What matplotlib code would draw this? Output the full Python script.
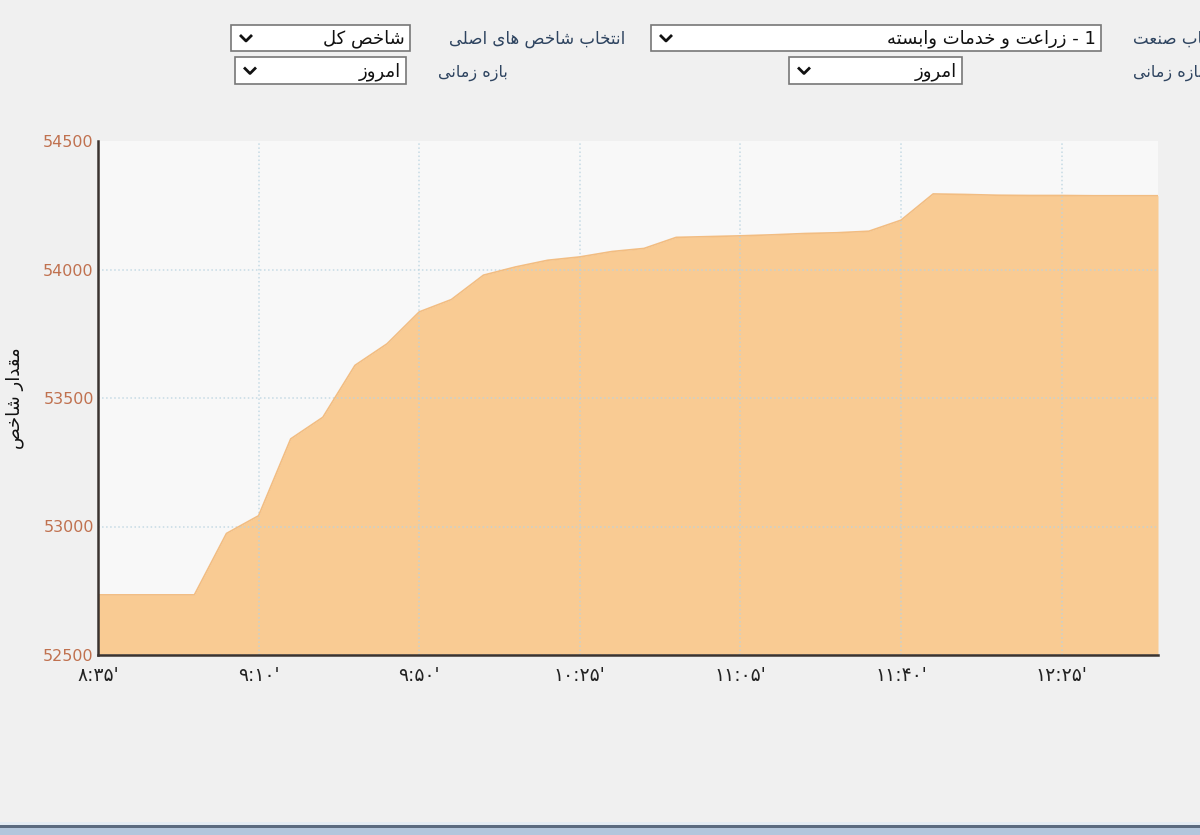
import matplotlib
matplotlib.use("Agg")
import matplotlib.pyplot as plt
from matplotlib.patches import Rectangle

plt.rcParams['font.family'] = ['DejaVu Sans']

# index values (one point every ~7-9 minutes)
index_values = [52734, 52734, 52734, 52734, 52973, 53042, 53341, 53425, 53627, 53711,
                53835, 53883, 53978, 54010, 54036, 54049, 54070, 54082, 54125, 54128,
                54131, 54135, 54140, 54143, 54149, 54192, 54294, 54292, 54289, 54288,
                54288, 54287, 54287, 54287]
tick_pos = [0, 5, 10, 15, 20, 25, 30]
tick_labels = ["۸:۳۵'", "۹:۱۰'", "۹:۵۰'", "۱۰:۲۵'", "۱۱:۰۵'", "۱۱:۴۰'", "۱۲:۲۵'"]
y_ticks = [52500, 53000, 53500, 54000, 54500]

lbl_main = "انتخاب شاخص های اصلی"
box_main = "شاخص کل"
lbl_period = "بازه زمانی"
box_period = "امروز"
lbl_industry = "انتخاب صنعت"
box_industry = "1 - زراعت و خدمات وابسته"
y_title = "مقدار شاخص"


# matplotlib has no arabic shaping, so pick presentation forms by hand
FORMS = {
    'ا': (0xFE8D, 0xFE8E, None, None), 'ب': (0xFE8F, 0xFE90, 0xFE91, 0xFE92),
    'ت': (0xFE95, 0xFE96, 0xFE97, 0xFE98), 'خ': (0xFEA5, 0xFEA6, 0xFEA7, 0xFEA8),
    'د': (0xFEA9, 0xFEAA, None, None), 'ر': (0xFEAD, 0xFEAE, None, None),
    'ز': (0xFEAF, 0xFEB0, None, None), 'س': (0xFEB1, 0xFEB2, 0xFEB3, 0xFEB4),
    'ش': (0xFEB5, 0xFEB6, 0xFEB7, 0xFEB8), 'ص': (0xFEB9, 0xFEBA, 0xFEBB, 0xFEBC),
    'ع': (0xFEC9, 0xFECA, 0xFECB, 0xFECC), 'ق': (0xFED5, 0xFED6, 0xFED7, 0xFED8),
    'ل': (0xFEDD, 0xFEDE, 0xFEDF, 0xFEE0), 'م': (0xFEE1, 0xFEE2, 0xFEE3, 0xFEE4),
    'ن': (0xFEE5, 0xFEE6, 0xFEE7, 0xFEE8), 'ه': (0xFEE9, 0xFEEA, 0xFEEB, 0xFEEC),
    'و': (0xFEED, 0xFEEE, None, None), 'ک': (0xFB8E, 0xFB8F, 0xFB90, 0xFB91),
    'ی': (0xFBFC, 0xFBFD, 0xFBFE, 0xFBFF),
}


def fa(s):
    out = []
    for i, c in enumerate(s):
        if c not in FORMS:
            out.append(c)
            continue
        f = FORMS[c]
        prev = s[i - 1] if i > 0 else ''
        nxt = s[i + 1] if i + 1 < len(s) else ''
        jp = prev in FORMS and FORMS[prev][2] is not None
        jn = f[2] is not None and nxt in FORMS
        if jp and jn:
            g = f[3]
        elif jp:
            g = f[1]
        elif jn:
            g = f[2]
        else:
            g = f[0]
        out.append(chr(g))
    return ''.join(reversed(out))


W, H = 1200, 835
fig = plt.figure(figsize=(12, 8.35), dpi=100, facecolor='#f0f0f0')

# main chart
ax = fig.add_axes([98 / W, (H - 655) / H, (1158 - 98) / W, (655 - 141) / H])
ax.set_facecolor('#f8f8f8')
x = list(range(len(index_values)))
ax.fill_between(x, 52500, index_values, color='#f9cb93', lw=0, zorder=2)
ax.plot(x, index_values, color='#f2bd82', lw=1.2, zorder=3)
ax.set_xlim(0, len(index_values) - 1)
ax.set_ylim(52500, 54500)
ax.set_yticks(y_ticks)
ax.set_xticks(tick_pos)
ax.set_xticklabels(tick_labels)
ax.tick_params(axis='both', length=0)
ax.tick_params(axis='y', labelsize=11.5, labelcolor='#c0714f', pad=3)
ax.tick_params(axis='x', labelsize=13.5, labelcolor='#222222', pad=8)
ax.grid(True, color='#b9d3e0', linestyle=':', lw=1.1, alpha=0.8, zorder=4)
ax.set_axisbelow(False)
ax.get_ygridlines()[-1].set_visible(False)
for side in ['top', 'right']:
    ax.spines[side].set_visible(False)
for side in ['left', 'bottom']:
    ax.spines[side].set_color('#3a3330')
    ax.spines[side].set_linewidth(1.8)
    ax.spines[side].set_zorder(5)
fig.text(15 / W, 1 - 398 / H, fa(y_title), rotation=90, ha='center', va='center',
         fontsize=13, color='#111111')

# form controls above the chart, drawn in pixel space
ui = fig.add_axes([0, 0, 1, 1], zorder=10)
ui.set_xlim(0, W)
ui.set_ylim(H, 0)
ui.axis('off')
ui.patch.set_alpha(0)


def dropdown(x0, x1, y0, y1, label):
    ui.add_patch(Rectangle((x0, y0), x1 - x0, y1 - y0, facecolor='white',
                           edgecolor='#777777', lw=1.2))
    cx, cy = x0 + 15, (y0 + y1) / 2
    ui.plot([cx - 6, cx, cx + 6], [cy - 3, cy + 3, cy - 3], color='#111111', lw=2,
            solid_capstyle='butt')
    ui.text(x1 - 5, cy + 1, fa(label), ha='right', va='center', fontsize=13, color='#111111')


dropdown(231, 410, 25, 51, box_main)
dropdown(235, 406, 57, 84, box_period)
dropdown(651, 1101, 25, 51, box_industry)
dropdown(789, 962, 57, 84, box_period)

lbl_color = '#2e4460'
ui.text(625, 39, fa(lbl_main), ha='right', va='center', fontsize=12, color=lbl_color)
ui.text(508, 73, fa(lbl_period), ha='right', va='center', fontsize=11.5, color=lbl_color)
# the right-hand labels run past the window edge in the original screenshot
ui.text(1133, 39, fa(lbl_industry), ha='left', va='center', fontsize=12, color=lbl_color)
ui.text(1133, 73, fa(lbl_period), ha='left', va='center', fontsize=11.5, color=lbl_color)

# window border at the bottom
ui.add_patch(Rectangle((0, 822), W, 3, facecolor='#e4ecf4', lw=0))
ui.add_patch(Rectangle((0, 825), W, 3, facecolor='#5b6b80', lw=0))
ui.add_patch(Rectangle((0, 828), W, 7, facecolor='#b3c6dc', lw=0))

fig.savefig('out.png', dpi=100, facecolor=fig.get_facecolor())
